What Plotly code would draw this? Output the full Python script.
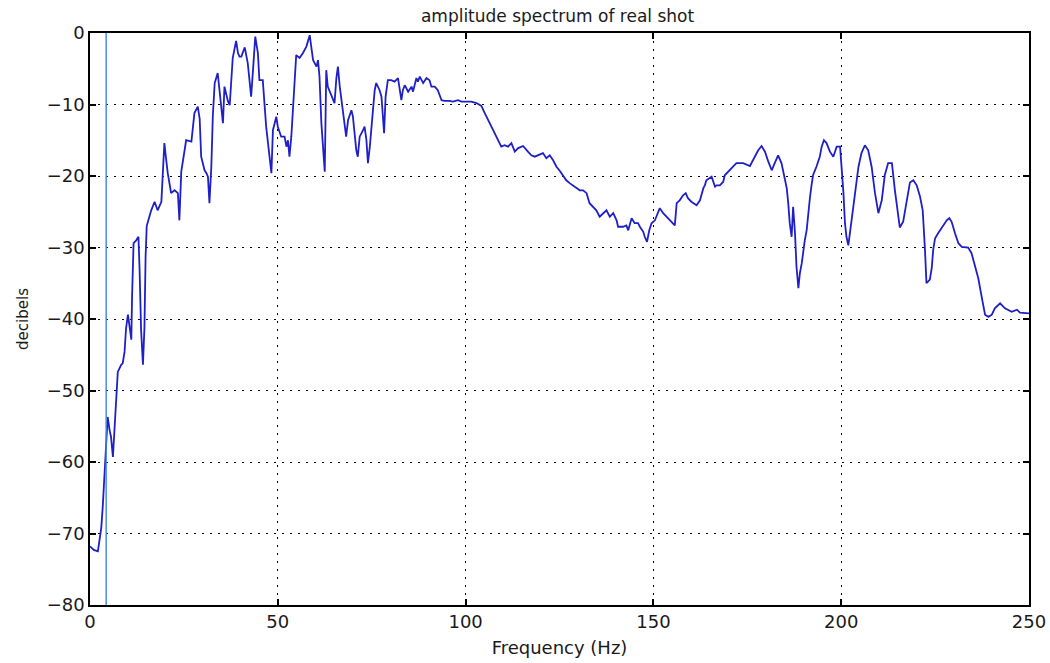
import plotly.graph_objects as go

# Amplitude spectrum of the recorded shot (frequency in Hz, level in dB)
freq_hz = [
    0.0, 1.0, 2.1, 2.5, 3.0, 3.4, 3.9, 4.3, 4.7, 5.2, 5.6, 6.1, 6.5, 7.0, 7.4, 8.3, 8.7, 9.2, 9.6,
    10.1, 10.5, 11.0, 11.2, 11.6, 12.3, 12.9, 13.2, 13.6, 14.1, 14.5, 14.8, 15.1, 15.8, 16.3, 17.2,
    18.0, 19.0, 19.4, 19.8, 20.3, 20.7, 21.6, 22.5, 23.4, 23.8, 24.3, 25.2, 25.6, 27.0, 27.4, 27.8,
    28.7, 29.2, 29.6, 30.5, 31.0, 31.4, 31.8, 32.3, 32.7, 33.2, 34.0, 34.9, 35.4, 35.8, 36.7, 37.2,
    37.6, 38.0, 38.9, 39.4, 39.8, 40.3, 41.2, 42.0, 42.5, 42.9, 43.4, 44.0, 44.7, 45.1, 46.0, 46.5,
    46.9, 47.8, 48.3, 48.7, 49.6, 50.0, 50.9, 51.8, 52.3, 52.7, 53.1, 53.6, 54.0, 54.9, 55.8, 56.7,
    57.6, 58.5, 58.9, 59.4, 60.3, 60.7, 61.1, 61.6, 62.5, 62.9, 63.3, 64.3, 65.1, 65.6, 66.0, 66.5,
    67.3, 68.2, 68.7, 69.6, 70.0, 70.9, 71.3, 71.8, 72.7, 73.1, 73.6, 74.0, 74.5, 74.9, 75.3, 75.8,
    76.2, 77.1, 77.6, 78.0, 78.3, 78.7, 79.3, 80.2, 81.1, 82.0, 82.4, 82.9, 83.3, 83.8, 84.7, 85.6,
    86.0, 86.9, 87.3, 87.8, 88.7, 89.6, 90.4, 90.9, 91.8, 92.6, 93.6, 94.4, 95.7, 96.6, 98.0, 98.9,
    99.8, 101.5, 102.9, 104.2, 105.1, 106.0, 106.9, 107.8, 108.6, 109.5, 110.4, 111.3, 112.2, 113.1,
    114.0, 115.3, 116.6, 117.5, 118.4, 119.3, 120.6, 121.5, 122.4, 123.3, 124.2, 125.1, 126.0, 126.8,
    127.7, 128.6, 129.5, 130.4, 131.3, 132.2, 133.0, 133.9, 134.8, 135.7, 136.6, 137.5, 138.4, 139.3,
    140.2, 140.6, 141.9, 142.8, 143.3, 143.7, 144.2, 145.0, 145.9, 146.4, 147.3, 147.7, 148.3, 148.9,
    149.5, 150.4, 151.3, 151.7, 152.6, 153.5, 154.8, 155.7, 156.2, 157.0, 157.9, 158.6, 159.2, 160.1,
    161.5, 162.4, 163.3, 163.7, 164.1, 165.0, 165.5, 166.4, 166.8, 167.7, 168.6, 169.0, 170.4, 171.2,
    172.1, 173.9, 175.7, 176.6, 177.9, 178.8, 179.7, 180.6, 181.5, 182.3, 183.2, 184.1, 184.6, 185.5,
    185.9, 186.3, 186.8, 187.2, 187.7, 188.1, 188.6, 189.0, 189.5, 189.9, 190.3, 190.8, 191.2, 191.7,
    192.1, 192.5, 193.4, 194.3, 194.8, 195.4, 196.1, 197.0, 197.9, 198.8, 199.7, 200.1, 200.6, 201.0,
    201.4, 201.9, 202.3, 202.8, 203.7, 204.6, 205.4, 206.3, 207.2, 208.1, 209.0, 209.9, 210.8, 211.6,
    212.5, 213.5, 214.3, 215.2, 215.6, 216.5, 217.4, 218.3, 219.2, 220.1, 221.0, 221.7, 222.3, 222.7,
    223.6, 224.1, 224.5, 225.0, 225.8, 226.7, 228.1, 228.8, 229.4, 230.3, 231.2, 232.1, 233.8, 234.7,
    235.6, 236.5, 237.4, 238.3, 239.2, 240.1, 240.9, 242.3, 243.6, 245.4, 246.8, 247.6, 250.0,
]
level_db = [
    -71.8, -72.3, -72.5, -71.3, -69.2, -66.2, -61.5, -56.5, -53.7, -55.5, -56.5, -59.3, -56.0, -50.4,
    -47.4, -46.4, -46.2, -44.6, -41.3, -39.4, -41.1, -42.9, -36.9, -29.4, -29.0, -28.5, -33.1, -41.5,
    -46.4, -41.1, -31.3, -27.0, -25.7, -24.8, -23.6, -24.8, -23.6, -20.1, -15.4, -17.8, -19.6, -22.4,
    -22.0, -22.4, -26.2, -19.4, -16.4, -15.0, -15.2, -13.6, -11.2, -10.3, -12.0, -17.3, -19.2, -19.6,
    -20.1, -23.8, -18.7, -11.6, -7.0, -5.6, -10.0, -12.6, -7.5, -9.5, -10.1, -7.2, -3.5, -1.1, -2.8,
    -3.3, -3.3, -2.0, -4.2, -6.8, -8.9, -5.2, -0.5, -2.8, -6.6, -6.6, -10.3, -13.1, -17.3, -19.6,
    -13.6, -11.7, -13.1, -14.5, -14.5, -15.9, -15.0, -17.3, -14.5, -11.2, -3.1, -3.5, -2.8, -1.9,
    -0.3, -1.9, -3.8, -4.7, -3.8, -6.1, -12.6, -19.4, -5.2, -7.5, -8.9, -9.8, -6.3, -4.7, -7.5, -11.2,
    -14.5, -12.2, -10.8, -11.7, -16.4, -17.3, -14.5, -13.6, -13.1, -15.0, -18.2, -15.9, -13.6, -11.7,
    -8.0, -7.0, -8.0, -8.9, -11.7, -14.0, -8.9, -6.6, -6.6, -6.8, -6.3, -7.5, -9.4, -8.0, -7.3, -8.2,
    -7.5, -8.2, -6.3, -6.8, -6.1, -7.0, -6.3, -6.6, -7.5, -7.5, -8.0, -9.4, -9.5, -9.5, -9.6, -9.4,
    -9.6, -9.6, -9.6, -9.8, -10.2, -11.2, -12.2, -13.1, -14.0, -15.0, -15.9, -15.7, -15.9, -15.4,
    -16.6, -16.1, -15.8, -16.6, -17.1, -17.3, -17.1, -16.8, -17.5, -17.1, -17.8, -18.7, -19.3, -19.9,
    -20.6, -21.0, -21.3, -21.7, -22.0, -22.0, -22.4, -23.8, -24.3, -24.8, -25.7, -25.2, -24.8, -25.7,
    -25.2, -26.2, -27.1, -27.1, -26.9, -27.6, -26.9, -25.9, -26.6, -26.6, -27.1, -27.8, -28.5, -29.2,
    -27.6, -26.6, -26.2, -24.8, -24.5, -25.2, -25.7, -26.4, -26.9, -23.8, -23.4, -22.7, -22.4, -23.1,
    -23.6, -24.1, -23.4, -21.7, -21.3, -20.6, -20.3, -20.1, -21.5, -21.3, -21.3, -20.8, -19.9, -19.2,
    -18.7, -18.2, -18.2, -18.6, -17.6, -16.4, -15.8, -16.6, -18.0, -19.2, -18.2, -17.1, -18.2, -19.6,
    -21.7, -23.8, -26.6, -28.5, -24.3, -28.0, -32.7, -35.7, -33.6, -32.2, -30.3, -29.0, -27.6, -25.2,
    -22.9, -21.3, -19.9, -18.7, -17.3, -15.9, -15.0, -15.4, -16.6, -17.3, -15.9, -15.9, -18.7, -22.4,
    -26.6, -28.5, -29.7, -28.0, -25.7, -22.4, -18.7, -16.8, -15.7, -16.4, -18.7, -22.4, -25.2, -23.4,
    -19.9, -18.2, -18.2, -22.0, -25.7, -27.2, -26.4, -23.8, -20.9, -20.6, -21.3, -22.9, -24.8, -30.3,
    -35.0, -34.5, -32.9, -30.3, -28.7, -28.0, -27.3, -26.2, -25.9, -26.4, -28.0, -29.4, -29.9, -30.0,
    -30.8, -32.4, -34.3, -36.9, -39.4, -39.7, -39.4, -38.5, -37.8, -38.5, -39.0, -38.7, -39.1, -39.2,
]

# Marker frequency shown as a vertical line
marker_hz = 4.3

x_ticks = [0, 50, 100, 150, 200, 250]
y_ticks = [-80, -70, -60, -50, -40, -30, -20, -10, 0]

fig = go.Figure()
fig.add_trace(go.Scatter(
    x=freq_hz, y=level_db, mode="lines",
    line=dict(color="#1f1fc8", width=1.8),
    showlegend=False, hoverinfo="skip",
))
fig.add_trace(go.Scatter(
    x=[marker_hz, marker_hz], y=[y_ticks[0], y_ticks[-1]], mode="lines",
    line=dict(color="#3c86dc", width=1.4),
    showlegend=False, hoverinfo="skip",
))

font_family = "DejaVu Sans, Arial, sans-serif"
axis_font = dict(family=font_family, size=18, color="#1a1a1a")
common = dict(
    showline=True, linecolor="black", linewidth=1.5, mirror="ticks",
    ticks="inside", ticklen=6, tickcolor="black", tickwidth=1.5,
    showgrid=True, gridcolor="black", gridwidth=1, griddash="2px,6px",
    zeroline=False, tickfont=axis_font, automargin=False,
    ticklabeloverflow="allow",
)

fig.update_layout(
    width=1050, height=663,
    paper_bgcolor="white", plot_bgcolor="white",
    margin=dict(l=90, r=21, t=33, b=58),
    title=dict(
        text="amplitude spectrum of real shot",
        x=0.531, xanchor="center", y=0.976, yanchor="middle",
        font=dict(family=font_family, size=17, color="#1a1a1a"),
    ),
    xaxis=dict(
        range=[0, 250], tickvals=x_ticks,
        title=dict(text="Frequency (Hz)", standoff=10,
                   font=dict(family=font_family, size=18, color="#1a1a1a")),
        **common,
    ),
    yaxis=dict(
        range=[-80, 0], tickvals=y_ticks,
        title=dict(text="decibels", standoff=14,
                   font=dict(family=font_family, size=15, color="#1a1a1a")),
        **common,
    ),
)

fig.write_html("out.html")
